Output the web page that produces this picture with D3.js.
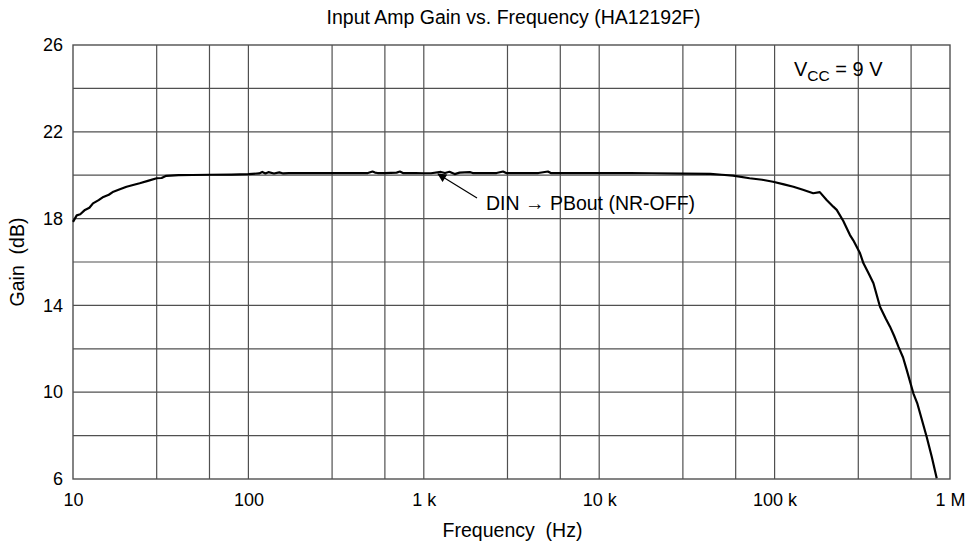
<!DOCTYPE html>
<html><head><meta charset="utf-8">
<script src="https://cdn.jsdelivr.net/npm/d3@7"></script>
<style>body{margin:0;background:#fff}svg{display:block}text{font-family:"Liberation Sans",Arial,sans-serif;fill:#000;white-space:pre}</style>
</head><body><svg id="c" width="975" height="545"></svg>
<script>
const freq = [10,10.5,11,11.7,12.4,13,14,14.9,16,17,18.5,20.2,22,24,27,30,32,34,40,48,60,80,100,115,120,125,130,140,150,158,170,200,250,300,400,480,510,527,545,600,700,731,760,900,1000,1100,1250,1320,1400,1500,1600,1830,1900,2200,2600,2830,2950,3500,4500,5100,5300,7000,10000,15000,20000,30000,43000,50000,58000,72000,85000,98000,113000,128000,145000,166000,181000,198000,216000,226000,246000,269000,281000,307000,321000,345000,366000,399000,430000,455000,480000,508000,540000,567000,618000,650000,675000,736000,787000,840000];
const gain = [17.85,18.15,18.2,18.4,18.5,18.7,18.85,19.0,19.1,19.24,19.35,19.47,19.55,19.63,19.75,19.86,19.87,19.97,20.0,20.01,20.02,20.03,20.05,20.08,20.15,20.08,20.14,20.08,20.13,20.08,20.1,20.1,20.1,20.1,20.1,20.1,20.17,20.12,20.1,20.1,20.12,20.17,20.1,20.1,20.09,20.09,20.15,20.1,20.16,20.05,20.12,20.14,20.1,20.1,20.1,20.17,20.1,20.1,20.1,20.17,20.1,20.1,20.1,20.1,20.09,20.07,20.06,20.02,19.98,19.86,19.79,19.7,19.58,19.47,19.33,19.17,19.22,18.86,18.55,18.4,17.9,17.24,17.0,16.4,15.94,15.45,15.02,13.94,13.4,13.02,12.6,12.1,11.6,11.02,9.95,9.5,9.03,7.95,7.03,6.03];
const xTickValues = [10,100,1000,10000,100000,1000000];
const xTickLabels = ["10","100","1 k","10 k","100 k","1 M"];
const xGridValues = [30,60,100,300,600,1000,3000,6000,10000,30000,60000,100000,300000,600000];
const yTickValues = [6,10,14,18,22,26];
const yGridValues = [8,10,12,14,16,18,20,22,24];
const title = "Input Amp Gain vs. Frequency (HA12192F)";
const xTitle = "Frequency  (Hz)";
const yTitle = "Gain  (dB)";
const seriesLabel = "DIN \u2192 PBout (NR-OFF)";

const L=73,R=950,T=45,B=479;
const svg=d3.select("#c");
const x=d3.scaleLog().domain([10,1e6]).range([L,R]);
const y=d3.scaleLinear().domain([6,26]).range([B,T]);
const gridColor="#505050";

svg.append("g").selectAll("line").data(xGridValues).join("line")
  .attr("x1",d=>x(d)).attr("x2",d=>x(d)).attr("y1",T).attr("y2",B)
  .attr("stroke",gridColor).attr("stroke-width",1.2);
svg.append("g").selectAll("line").data(yGridValues).join("line")
  .attr("y1",d=>y(d)).attr("y2",d=>y(d)).attr("x1",L).attr("x2",R)
  .attr("stroke",gridColor).attr("stroke-width",1.2);
svg.append("rect").attr("x",L).attr("y",T).attr("width",R-L).attr("height",B-T)
  .attr("fill","none").attr("stroke",gridColor).attr("stroke-width",1.4);

const xAxis=d3.axisBottom(x).tickValues(xTickValues).tickFormat((d,i)=>xTickLabels[i]).tickSize(0).tickPadding(14);
const gx=svg.append("g").attr("transform",`translate(0,${B})`).call(xAxis);
gx.select(".domain").remove();
gx.selectAll("text").attr("font-size",18).attr("font-family","Liberation Sans, Arial, sans-serif").attr("fill","#000");
const yAxis=d3.axisLeft(y).tickValues(yTickValues).tickSize(0).tickPadding(10);
const gy=svg.append("g").attr("transform",`translate(${L},0)`).call(yAxis);
gy.select(".domain").remove();
gy.selectAll("text").attr("font-size",18).attr("font-family","Liberation Sans, Arial, sans-serif").attr("fill","#000");

const line=d3.line().x((d,i)=>x(freq[i])).y(d=>y(d)).curve(d3.curveLinear);
svg.append("path").datum(gain).attr("d",line).attr("fill","none").attr("stroke","#000").attr("stroke-width",2.2).attr("stroke-linejoin","round");

svg.append("text").attr("x",(L+R)/2+2).attr("y",24).attr("text-anchor","middle").attr("font-size",19.5).text(title);
svg.append("text").attr("x",(L+R)/2+1).attr("y",537).attr("text-anchor","middle").attr("font-size",19.5).text(xTitle);
svg.append("text").attr("transform",`translate(24,${(T+B)/2}) rotate(-90)`).attr("text-anchor","middle").attr("font-size",19.5).text(yTitle);

const vt=svg.append("text").attr("x",794).attr("y",76).attr("font-size",20);
vt.append("tspan").text("V");
vt.append("tspan").attr("font-size",15.5).attr("dy",5).text("CC");
vt.append("tspan").attr("dy",-5).text(" = 9 V");

svg.append("text").attr("x",486).attr("y",210).attr("font-size",19.5).text(seriesLabel);
svg.append("defs").append("marker").attr("id","ah").attr("viewBox","0 0 10 10").attr("refX",9).attr("refY",5)
  .attr("markerWidth",14).attr("markerHeight",9).attr("markerUnits","userSpaceOnUse").attr("orient","auto")
  .append("path").attr("d","M0,0L10,5L0,10z").attr("fill","#000");
svg.append("line").attr("x1",477).attr("y1",198).attr("x2",438).attr("y2",174)
  .attr("stroke","#000").attr("stroke-width",1.2).attr("marker-end","url(#ah)");
</script></body></html>
